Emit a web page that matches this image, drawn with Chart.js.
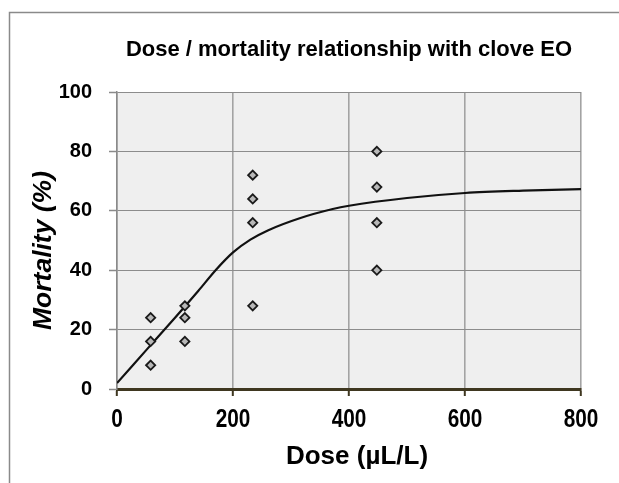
<!DOCTYPE html>
<html>
<head>
<meta charset="utf-8">
<script src="https://cdn.jsdelivr.net/npm/chart.js@4.4.1/dist/chart.umd.min.js"></script>
<style>
  html, body { margin: 0; padding: 0; background: #ffffff; overflow: hidden; }
  canvas { display: block; }
</style>
</head>
<body>
<canvas id="c" width="619" height="483"></canvas>
<script>
// Observed data (dose in µL/L, mortality in %)
const obsDose      = [58, 58, 58, 117, 117, 117, 234, 234, 234, 234, 448, 448, 448, 448];
const obsMortality = [24, 16, 8, 28, 24, 16, 72, 64, 56, 28, 80, 68, 56, 40];

// Fitted curve
const fitDose      = [0, 50, 100, 140, 170, 200, 230, 260, 315, 372, 400, 500, 600, 700, 800];
const fitMortality = [2, 13, 24, 33, 40, 46, 50.3, 53.4, 57.5, 60.6, 61.7, 64.3, 66, 66.8, 67.3];

const xTicks = [0, 200, 400, 600, 800];
const yTicks = [0, 20, 40, 60, 80, 100];

const chartTitle = 'Dose / mortality relationship with clove EO';
const xTitle = 'Dose (µL/L)';
const yTitle = 'Mortality (%)';

const FONT = '"Liberation Sans", Arial, sans-serif';

const plotBg = {
  id: 'plotBg',
  beforeDraw(chart) {
    const {ctx, chartArea: a, width, height} = chart;
    ctx.save();
    // outer frame (top and left edges of the original picture)
    ctx.strokeStyle = '#8a8a8a';
    ctx.lineWidth = 1.5;
    ctx.beginPath();
    ctx.moveTo(width, 12.5);
    ctx.lineTo(9.5, 12.5);
    ctx.lineTo(9.5, height);
    ctx.stroke();
    ctx.fillStyle = '#efefef';
    ctx.fillRect(a.left, a.top, a.right - a.left, a.bottom - a.top);
    ctx.restore();
  }
};

// Axis texts drawn with the library's scales (x tick labels are condensed like the original)
const axisText = {
  id: 'axisText',
  afterDraw(chart) {
    const {ctx, scales: {x}, chartArea: a} = chart;
    ctx.save();
    ctx.fillStyle = '#000000';
    ctx.textAlign = 'center';
    ctx.textBaseline = 'middle';
    ctx.font = 'bold 26px ' + FONT;
    xTicks.forEach(v => {
      ctx.save();
      ctx.translate(x.getPixelForValue(v), a.bottom + 31);
      ctx.scale(0.8, 1);
      ctx.fillText(String(v), 0, 0);
      ctx.restore();
    });
    ctx.font = 'bold 26px ' + FONT;
    ctx.fillText(xTitle, (a.left + a.right) / 2 + 8, a.bottom + 68);
    ctx.save();
    ctx.font = 'italic bold 26.5px ' + FONT;
    ctx.translate(44, (a.top + a.bottom) / 2 + 10);
    ctx.rotate(-Math.PI / 2);
    ctx.fillText(yTitle, 0, 0);
    ctx.restore();
    ctx.restore();
  }
};

new Chart(document.getElementById('c'), {
  type: 'scatter',
  data: {
    datasets: [
      {
        label: 'Observed',
        data: obsDose.map((d, i) => ({x: d, y: obsMortality[i]})),
        pointStyle: 'rectRot',
        pointRadius: 4.6,
        pointBackgroundColor: '#b8b8b8',
        pointBorderColor: '#1a1a1a',
        pointBorderWidth: 1.8,
        showLine: false
      },
      {
        label: 'Fit',
        data: fitDose.map((d, i) => ({x: d, y: fitMortality[i]})),
        showLine: true,
        borderColor: '#111111',
        borderWidth: 2.2,
        pointRadius: 0,
        cubicInterpolationMode: 'monotone',
        fill: false
      }
    ]
  },
  options: {
    responsive: false,
    animation: false,
    layout: { padding: { left: 0, right: 38, top: 0, bottom: 0 } },
    plugins: {
      legend: { display: false },
      tooltip: { enabled: false },
      title: {
        display: true,
        text: chartTitle,
        fullSize: false,
        color: '#000000',
        font: { family: FONT, size: 22, weight: 'bold' },
        padding: { top: 37, bottom: 28.6 }
      }
    },
    scales: {
      x: {
        type: 'linear',
        min: 0, max: 800,
        afterBuildTicks: s => { s.ticks = xTicks.map(v => ({value: v})); },
        afterFit: s => { s.height = 94; },
        border: { display: true, color: '#3f3720', width: 3 },
        grid: { color: '#a3a3a3', lineWidth: 1.6, drawTicks: true, tickLength: 7, tickColor: '#3f3720', tickWidth: 2 },
        ticks: { display: false },
        title: { display: false }
      },
      y: {
        type: 'linear',
        min: 0, max: 100,
        afterBuildTicks: s => { s.ticks = yTicks.map(v => ({value: v})); },
        afterFit: s => { s.width = 117; },
        border: { display: true, color: '#8a8a8a', width: 1.5 },
        grid: { color: '#8c8c8c', lineWidth: 1, drawTicks: true, tickLength: 8, tickColor: '#8a8a8a', tickWidth: 1.5 },
        ticks: {
          color: '#000000',
          padding: 17,
          font: { family: FONT, size: 20, weight: 'bold' }
        },
        title: { display: false }
      }
    }
  },
  plugins: [plotBg, axisText]
});
</script>
</body>
</html>
